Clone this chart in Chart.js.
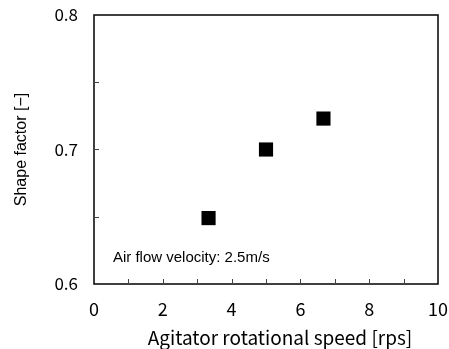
<!DOCTYPE html>
<html><head><meta charset="utf-8">
<script src="https://cdn.jsdelivr.net/npm/chart.js@4"></script>
<style>html,body{margin:0;padding:0;background:#fff}#wrap{width:449px;height:349px}</style>
</head><body><div id="wrap"><canvas id="c" width="449" height="349"></canvas></div>
<script>
const speeds = [3.33, 5.0, 6.67];
const shapeFactor = [0.649, 0.700, 0.723];
const xTicks = [0, 2, 4, 6, 8, 10];
const yTicks = [0.6, 0.7, 0.8];
const xTitle = 'Agitator rotational speed [rps]';
const yTitle = 'Shape factor [\u2212]';
const note = 'Air flow velocity: 2.5m/s';

const gothic = '"Noto Sans CJK JP", "Liberation Sans", sans-serif';
const arial = '"Liberation Sans", Arial, sans-serif';

const framePlugin = {
  id: 'frame',
  afterDraw(chart) {
    const {ctx, chartArea: a, scales: {x, y}} = chart;
    ctx.save();
    ctx.strokeStyle = '#000';
    ctx.lineWidth = 1.5;
    ctx.strokeRect(a.left, a.top, a.right - a.left, a.bottom - a.top);
    ctx.lineWidth = 1;
    ctx.strokeStyle = '#444';
    ctx.beginPath();
    for (let v = 1; v < 10; v++) {
      const px = Math.round(x.getPixelForValue(v)) + 0.5;
      ctx.moveTo(px, a.bottom); ctx.lineTo(px, a.bottom - 5);
    }
    for (let v = 0.65; v < 0.8; v += 0.05) {
      const py = Math.round(y.getPixelForValue(v)) + 0.5;
      ctx.moveTo(a.left, py); ctx.lineTo(a.left + 5, py);
    }
    ctx.stroke();
    ctx.fillStyle = '#000';
    ctx.font = '15px ' + arial;
    ctx.textBaseline = 'middle';
    ctx.textAlign = 'left';
    ctx.fillText(note, x.getPixelForValue(0.55), y.getPixelForValue(0.6195));
    // x axis title, slightly right of centre as in the reference
    ctx.font = '19px ' + gothic;
    ctx.textAlign = 'center';
    ctx.textBaseline = 'alphabetic';
    ctx.fillText(xTitle, (a.left + a.right) / 2 + 14, x.bottom - 4);
    ctx.restore();
  }
};

function zeroPad(s) { s.paddingLeft = 0; s.paddingRight = 0; s.paddingTop = 0; s.paddingBottom = 0; }

new Chart(document.getElementById('c'), {
  type: 'scatter',
  data: {
    datasets: [{
      data: speeds.map((s, i) => ({x: s, y: shapeFactor[i]})),
      pointStyle: 'rect',
      pointRadius: 10,
      pointHoverRadius: 10,
      backgroundColor: '#000',
      borderColor: '#000',
      borderWidth: 0
    }]
  },
  options: {
    responsive: false,
    animation: false,
    events: [],
    layout: {padding: {top: 15, right: 11, left: 0, bottom: 0}},
    plugins: {legend: {display: false}, tooltip: {enabled: false}},
    scales: {
      x: {
        type: 'linear', min: 0, max: 10,
        afterBuildTicks(s) { s.ticks = xTicks.map(v => ({value: v})); },
        afterFit(s) { s.height = 65; zeroPad(s); },
        grid: {display: false, drawTicks: false},
        border: {display: false},
        ticks: {color: '#000', font: {family: gothic, size: 18}, padding: 14, maxRotation: 0},
        title: {display: false, text: xTitle}
      },
      y: {
        type: 'linear', min: 0.6, max: 0.8,
        afterBuildTicks(s) { s.ticks = yTicks.map(v => ({value: v})); },
        afterFit(s) { s.width = 94; zeroPad(s); },
        grid: {display: false, drawTicks: false},
        border: {display: false},
        ticks: {color: '#000', font: {family: gothic, size: 17}, padding: 16, callback: v => v.toFixed(1)},
        title: {display: true, text: yTitle, color: '#000', font: {family: arial, size: 16}, padding: {top: 12, bottom: 0}}
      }
    }
  },
  plugins: [framePlugin]
});
</script></body></html>
